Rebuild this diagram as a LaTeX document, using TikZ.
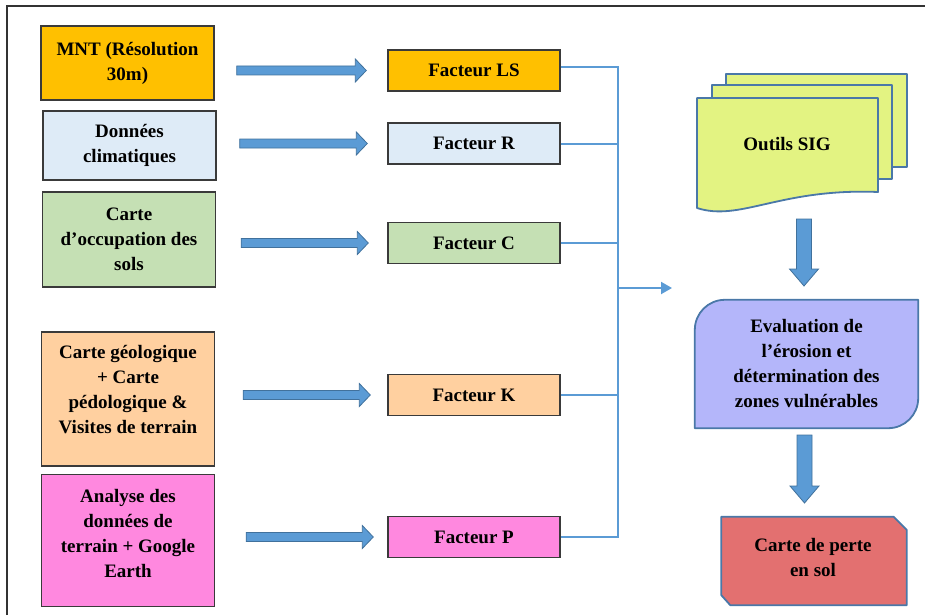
\documentclass[tikz,border=0pt]{standalone}
\usepackage{fontspec}
\setmainfont{Liberation Serif}
\usetikzlibrary{arrows.meta,calc,backgrounds}

\definecolor{cOrange}{HTML}{FFC000}
\definecolor{cBlueL}{HTML}{DEEBF7}
\definecolor{cGreen}{HTML}{C5E0B4}
\definecolor{cPeach}{HTML}{FFD0A0}
\definecolor{cPink}{HTML}{FF88DF}
\definecolor{cLime}{HTML}{E3F382}
\definecolor{cLav}{HTML}{B4B6FA}
\definecolor{cRed}{HTML}{E37070}
\definecolor{cArrow}{HTML}{5B9BD5}
\definecolor{cArrowEdge}{HTML}{41719C}
\definecolor{cEdge}{HTML}{3A3A3A}
\definecolor{cShapeEdge}{HTML}{4A78A8}

% horizontal block arrow from #1 to #2 (same height)
\newcommand{\hblock}[2]{%
  \path[blockarrow] let \p1=(#1), \p2=(#2) in
    (\x1,\y1-4.5pt) -- (\x2-11pt,\y1-4.5pt) -- (\x2-11pt,\y1-11.5pt) --
    (\x2,\y1) -- (\x2-11pt,\y1+11.5pt) -- (\x2-11pt,\y1+4.5pt) --
    (\x1,\y1+4.5pt) -- cycle;}
% vertical block arrow pointing down from #1 to #2
\newcommand{\vblock}[2]{%
  \path[blockarrow] let \p1=(#1), \p2=(#2) in
    (\x1-7.5pt,\y1) -- (\x1+7.5pt,\y1) -- (\x1+7.5pt,\y2+17pt) --
    (\x1+14.5pt,\y2+17pt) -- (\x1,\y2) -- (\x1-14.5pt,\y2+17pt) --
    (\x1-7.5pt,\y2+17pt) -- cycle;}

\begin{document}
\begin{tikzpicture}[x=1pt,y=-1pt,
  font=\fontsize{19}{25}\selectfont\bfseries,
  srcbox/.style={draw=cEdge,line width=1.4pt,minimum width=173pt,inner sep=0pt,align=center},
  facbox/.style={draw=cEdge,line width=1.4pt,minimum width=172pt,minimum height=41pt,inner sep=0pt,align=center},
  lbl/.style={align=center,inner sep=0pt},
  blockarrow/.style={fill=cArrow,draw=cArrowEdge,line width=0.8pt},
  busline/.style={draw=cArrow,line width=2pt},
  shapeline/.style={draw=cShapeEdge,line width=1.8pt,line join=round},
  frameline/.style={draw=black!80,line width=2pt}]

\useasboundingbox (0,0) rectangle (925,615);

% outer frame
\draw[frameline] (7,615) -- (7,6.5) -- (925,6.5);

% source data
\node[srcbox,fill=cOrange,minimum height=74pt] (mnt) at (127.5,63) {MNT (Résolution\\30m)};
\node[srcbox,fill=cBlueL,minimum height=69pt] (clim) at (129.5,145.5) {Données\\climatiques};
\node[srcbox,fill=cGreen,minimum height=95pt] (occ) at (129,239.5) {Carte\\d’occupation des\\sols};
\node[srcbox,fill=cPeach,minimum height=134pt] (geo) at (128,399) {};
\node[lbl] (geot) at (128,390) {Carte géologique\\+ Carte\\pédologique \&\\Visites de terrain};
\node[srcbox,fill=cPink,minimum height=132pt] (ana) at (128,540.5) {};
\node[lbl] (anat) at (128,533) {Analyse des\\données de\\terrain + Google\\Earth};

% factors
\node[facbox,fill=cOrange] (fls) at (474,70.5) {Facteur LS};
\node[facbox,fill=cBlueL] (fr) at (474,143.5) {Facteur R};
\node[facbox,fill=cGreen] (fc) at (474,243) {Facteur C};
\node[facbox,fill=cPeach] (fk) at (474,395) {Facteur K};
\node[facbox,fill=cPink] (fp) at (474,537) {Facteur P};

% block arrows from data to factors
\hblock{[xshift=22pt]mnt.east |- fls.west}{[xshift=-21pt]fls.west}
\hblock{[xshift=23pt]clim.east |- fr.west}{[xshift=-20pt]fr.west}
\hblock{[xshift=25pt]occ.east |- fc.west}{[xshift=-19pt]fc.west}
\hblock{[xshift=28pt]geo.east |- fk.west}{[xshift=-17pt]fk.west}
\hblock{[xshift=31pt]ana.east |- fp.west}{[xshift=-14pt]fp.west}

% collecting line
\coordinate (busb) at (618,537);
\coordinate (busout) at (618,288);
\coordinate (busin) at (672,288);
\draw[busline] ([yshift=3.5pt]fls.east) -| (busb) -- (fp.east);
\draw[busline] (fr.east) -- (fr.east -| busb);
\draw[busline] (fc.east) -- (fc.east -| busb);
\draw[busline] (fk.east) -- (fk.east -| busb);
\draw[busline,-{Triangle[length=11pt,width=12pt]}] (busout) -- (busin);

% GIS tools, evaluation and result
\node[lbl] (sig) at (787,144) {Outils SIG};
\node[lbl,minimum width=223pt,minimum height=128pt] (eval) at (806.5,364) {Evaluation de\\l’érosion et\\détermination des\\zones vulnérables};
\node[lbl,minimum width=185pt,minimum height=88pt] (perte) at (814,561) {};
\node[lbl] (pertet) at (813,557.5) {Carte de perte\\en sol};

\begin{scope}[on background layer]
  % stacked documents
  \path[shapeline,fill=cLime] (726,74) rectangle (907,167);
  \path[shapeline,fill=cLime] (712,85) rectangle (892,179);
  \path[shapeline,fill=cLime] (697,208) -- (697,98) -- (878,98) -- (878,192)
     .. controls (780,188) and (740,222) .. (697,208) -- cycle;
  % evaluation box: rounded top-left and bottom-right corners
  \path[shapeline,fill=cLav] (eval.south west) -- ([yshift=-30pt]eval.north west)
     arc[start angle=180,end angle=90,radius=30pt] -- (eval.north east)
     -- ([yshift=30pt]eval.south east)
     arc[start angle=0,end angle=-90,radius=30pt] -- cycle;
  % result: snipped top-right and bottom-left corners
  \path[shapeline,fill=cRed] ([yshift=10pt]perte.south west) -- (perte.north west)
     -- ([xshift=-13pt]perte.north east) -- ([yshift=-13pt]perte.north east)
     -- (perte.south east) -- ([xshift=9pt]perte.south west) -- cycle;
\end{scope}

% block arrows down the chain
\coordinate (d1s) at (804,219);
\coordinate (d1e) at (804,286);
\coordinate (d2s) at (804.5,435);
\coordinate (d2e) at (804.5,503);
\vblock{d1s}{d1e}
\vblock{d2s}{d2e}

\end{tikzpicture}
\end{document}
